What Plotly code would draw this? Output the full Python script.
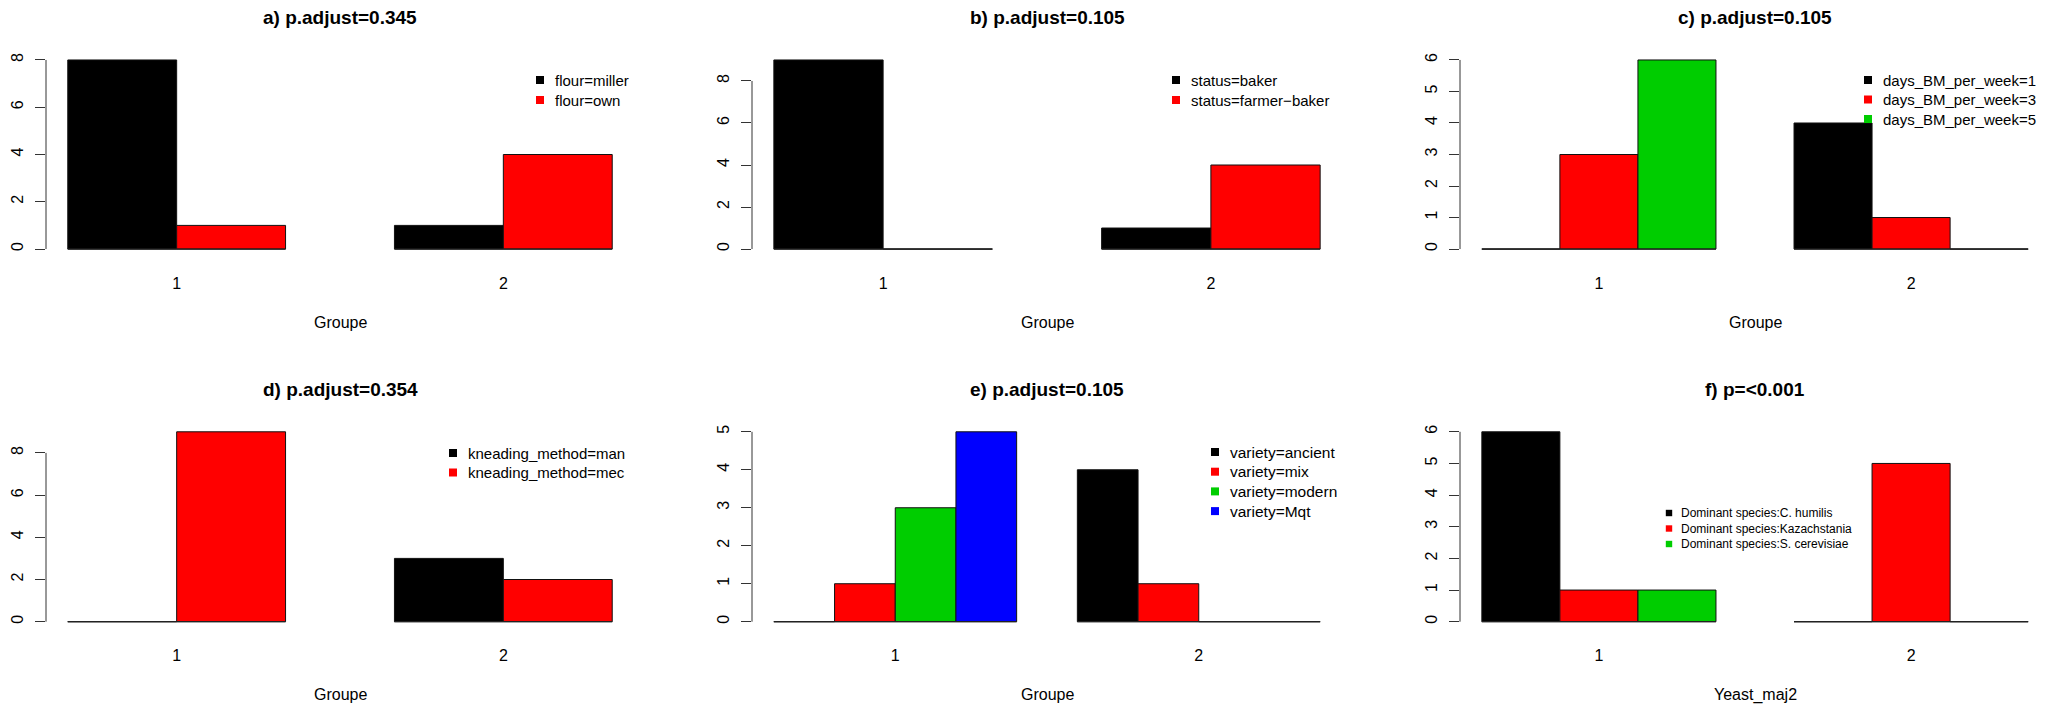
import plotly.graph_objects as go

W, H = 2063, 704

groups = ["1", "2"]

flour_labels = ["flour=miller", "flour=own"]
flour_miller = [8, 1]
flour_own = [1, 4]

status_labels = ["status=baker", "status=farmer−baker"]
status_baker = [9, 1]
status_farmer_baker = [0, 4]

days_labels = ["days_BM_per_week=1", "days_BM_per_week=3", "days_BM_per_week=5"]
days_1 = [0, 4]
days_3 = [3, 1]
days_5 = [6, 0]

kneading_labels = ["kneading_method=man", "kneading_method=mec"]
kneading_man = [0, 3]
kneading_mec = [9, 2]

variety_labels = ["variety=ancient", "variety=mix", "variety=modern", "variety=Mqt"]
variety_ancient = [0, 4]
variety_mix = [1, 1]
variety_modern = [3, 0]
variety_mqt = [5, 0]

yeast_labels = ["Dominant species:C. humilis", "Dominant species:Kazachstania",
                "Dominant species:S. cerevisiae"]
yeast_humilis = [6, 0]
yeast_kazachstania = [1, 5]
yeast_cerevisiae = [1, 0]

titles = ["a) p.adjust=0.345", "b) p.adjust=0.105", "c) p.adjust=0.105",
          "d) p.adjust=0.354", "e) p.adjust=0.105", "f) p=<0.001"]
x_titles = ["Groupe", "Groupe", "Groupe", "Groupe", "Groupe", "Yeast_maj2"]

panels = [
    (flour_labels, [flour_miller, flour_own]),
    (status_labels, [status_baker, status_farmer_baker]),
    (days_labels, [days_1, days_3, days_5]),
    (kneading_labels, [kneading_man, kneading_mec]),
    (variety_labels, [variety_ancient, variety_mix, variety_modern, variety_mqt]),
    (yeast_labels, [yeast_humilis, yeast_kazachstania, yeast_cerevisiae]),
]

colors = ["#000000", "#FF0000", "#00CD00", "#0000FF"]
FONT = "Liberation Sans, Arial, sans-serif"

# plot regions in pixels (left, right) / (top, bottom)
cols_px = [(46, 634), (752, 1342), (1460, 2050)]
rows_px = [(52.4, 256.6), (424.2, 629.3)]

# legend placement in pixels: square centre x, text x, first row y, row step, font size
legend_px = [
    (540, 553, 80, 20, 15),
    (1176, 1189, 80, 20, 15),
    (1868, 1881, 80, 19.5, 15),
    (453, 466, 453, 19.5, 15),
    (1215, 1228, 452, 19.7, 15.5),
    (1669, 1679, 513, 15.5, 12),
]


def px_x(x):
    return x / W


def px_y(y):
    return 1 - y / H


fig = go.Figure()
layout = dict(shapes=[], annotations=[])

for k, (labels, series) in enumerate(panels):
    row, col = divmod(k, 3)
    xa = "x" if k == 0 else f"x{k + 1}"
    ya = "y" if k == 0 else f"y{k + 1}"
    xkey = "xaxis" if k == 0 else f"xaxis{k + 1}"
    ykey = "yaxis" if k == 0 else f"yaxis{k + 1}"
    n = len(series)

    for i, vals in enumerate(series):
        fig.add_trace(go.Bar(
            x=[g * (n + 1) + i + 0.5 for g in range(len(groups))],
            y=vals,
            width=1,
            name=labels[i],
            marker=dict(color=colors[i], line=dict(color="#111111", width=1)),
            xaxis=xa, yaxis=ya,
            showlegend=False
        ))

    # zero-height bars show as a baseline in R
    for g in range(len(groups)):
        fig.add_trace(go.Scatter(
            x=[g * (n + 1), g * (n + 1) + n], y=[0, 0],
            mode="lines", line=dict(color="#222222", width=1.2),
            xaxis=xa, yaxis=ya, showlegend=False, hoverinfo="skip"
        ))

    span = len(groups) * (n + 1) - 1
    ymax = max(max(v) for v in series)
    step = 2 if ymax > 6 else 1
    top = (ymax // step) * step
    centers = [g * (n + 1) + n / 2 for g in range(len(groups))]

    (x0, x1), (t, b) = cols_px[col], rows_px[row]
    layout[xkey] = dict(
        domain=[px_x(x0), px_x(x1)], range=[-0.04 * span, 1.04 * span],
        anchor=ya, showline=False, showgrid=False, zeroline=False, ticks="",
        tickvals=centers, ticktext=groups, ticklabelstandoff=15,
        tickfont=dict(size=16, color="#000000")
    )
    layout[ykey] = dict(
        domain=[px_y(b), px_y(t)], range=[-0.04 * ymax, 1.04 * ymax],
        anchor=xa, showline=False, showgrid=False, zeroline=False,
        ticks="outside", ticklen=10, tickwidth=1, tickcolor="#333333",
        tickvals=list(range(0, top + 1, step)), tickangle=-90,
        ticklabelstandoff=6, tickfont=dict(size=16, color="#000000")
    )
    layout["shapes"].append(dict(
        type="line", xref=f"{xa} domain", yref=ya, x0=0, x1=0, y0=0, y1=top,
        line=dict(color="#333333", width=1)
    ))

    cx = px_x((x0 + x1) / 2)
    layout["annotations"].append(dict(
        text=f"<b>{titles[k]}</b>", x=cx, y=px_y(t - 35), xref="paper", yref="paper",
        showarrow=False, xanchor="center", yanchor="middle",
        font=dict(size=19, color="#000000")
    ))
    layout["annotations"].append(dict(
        text=x_titles[k], x=cx, y=px_y(b + 65.5), xref="paper", yref="paper",
        showarrow=False, xanchor="center", yanchor="middle",
        font=dict(size=16, color="#000000")
    ))

    sx, tx, ly, dy, fs = legend_px[k]
    half = 4 if fs > 12 else 3.2
    for i, lab in enumerate(labels):
        yy = ly + i * dy
        layout["shapes"].append(dict(
            type="rect", xref="paper", yref="paper",
            x0=px_x(sx - half), x1=px_x(sx + half),
            y0=px_y(yy + half), y1=px_y(yy - half),
            fillcolor=colors[i], line=dict(width=0)
        ))
        layout["annotations"].append(dict(
            text=lab, x=px_x(tx), y=px_y(yy), xref="paper", yref="paper",
            showarrow=False, xanchor="left", yanchor="middle",
            font=dict(size=fs, color="#000000")
        ))

fig.update_layout(
    width=W, height=H,
    margin=dict(l=0, r=0, t=0, b=0),
    plot_bgcolor="#FFFFFF", paper_bgcolor="#FFFFFF",
    barmode="overlay",
    font=dict(family=FONT, color="#000000"),
    **layout
)

# the page's default body margin would shift the whole figure by 8px
fig.write_html("out.html", config={"displayModeBar": False},
               post_script="document.body.style.margin = '0';")
